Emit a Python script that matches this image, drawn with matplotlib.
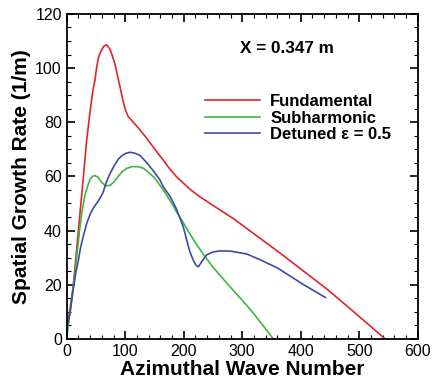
"""Spatial growth rate vs azimuthal wave number at X = 0.347 m."""

import matplotlib
matplotlib.use("Agg")
import matplotlib.pyplot as plt
from matplotlib.ticker import MultipleLocator

plt.rcParams["font.family"] = ["Liberation Sans", "DejaVu Sans"]

# Fundamental mode
fund_n = [0, 5, 11, 17, 23, 29, 34, 40, 45, 48.4, 51, 54, 57, 63, 68, 74, 78,
          82.5, 86, 91, 96.7, 100, 105, 114, 122, 137, 150, 165, 176, 188,
          211, 228, 262, 285, 310, 342, 370, 399, 420, 444, 484, 513, 544]
fund_sigma = [3, 10, 19, 33, 47, 61, 73, 84, 92, 95.6, 100, 103.5, 105.5,
              108, 108.6, 107, 104.5, 101.5, 98, 93.2, 87.5, 84.8, 82.1, 80,
              78, 74, 70.2, 66, 62.8, 59.8, 55.2, 52.4, 47.6, 44.4, 40.4,
              35.3, 30.8, 26, 22.5, 18.5, 11.2, 5.8, 0]

# Subharmonic mode
sub_n = [0, 4, 8.5, 14, 19, 23, 27, 31, 36, 40, 44, 48, 53, 57, 62, 68, 74,
         81, 88, 95, 103, 112, 122, 131, 137, 150, 165, 177, 188, 199, 211,
         222, 235, 250, 268, 285, 302, 319, 336, 353]
sub_sigma = [0, 7, 14.5, 24, 34, 42, 48, 53, 56.5, 59, 60, 60.3, 59.8, 58.6,
             57.3, 56.5, 56.7, 58, 60, 61.8, 63, 63.6, 63.6, 63, 62, 59.5,
             55, 51, 46.8, 43, 38.6, 34.8, 30.8, 26.5, 22, 17.8, 13.8, 9.5,
             4.8, 0]

# Detuned mode, epsilon = 0.5
det_n = [0, 1, 6, 11, 16, 20, 24, 28.5, 34, 40, 46, 51, 57, 62, 68, 74, 80,
         88, 94, 101, 108, 116, 125, 137, 150, 159, 165, 177, 188, 199, 205,
         210, 216, 221, 225, 230, 239, 250, 262, 280, 296, 307, 330, 361,
         399, 416, 442]
det_sigma = [3, 4.5, 10, 18, 25, 29, 34, 38, 42.5, 46, 48.5, 50, 52, 54, 58,
             61, 63.5, 66.3, 67.6, 68.5, 68.9, 68.6, 67.8, 65, 61.5, 58.8,
             56.2, 52.5, 47.8, 41.5, 36.6, 32.5, 29.2, 27.2, 26.6, 28.3, 31,
             32.1, 32.5, 32.4, 31.8, 31.4, 29.3, 26.1, 20.8, 18.6, 15.3]

fig = plt.figure(figsize=(4.33, 3.86), dpi=100)
ax = fig.add_axes([0.154, 0.122, 0.811, 0.842])

ax.plot(fund_n, fund_sigma, color="#e0242c", lw=1.2, label="Fundamental")
ax.plot(sub_n, sub_sigma, color="#3cb83c", lw=1.2, label="Subharmonic")
ax.plot(det_n, det_sigma, color="#3d4aa8", lw=1.2,
        label="Detuned \u03b5 = 0.5")

ax.set_xlim(0, 600)
ax.set_ylim(0, 120)
ax.xaxis.set_major_locator(MultipleLocator(100))
ax.xaxis.set_minor_locator(MultipleLocator(20))
ax.yaxis.set_major_locator(MultipleLocator(20))
ax.yaxis.set_minor_locator(MultipleLocator(5))
ax.tick_params(which="both", direction="in", top=True, right=True,
               labelsize=11.5, width=1.2)
ax.tick_params(which="major", length=6)
ax.tick_params(which="minor", length=3, width=0.8)
for sp in ax.spines.values():
    sp.set_linewidth(1.3)

ax.set_xlabel("Azimuthal Wave Number", fontsize=15, fontweight="bold",
              labelpad=1)
ax.set_ylabel("Spatial Growth Rate (1/m)", fontsize=15, fontweight="bold",
              labelpad=3)

ax.text(0.627, 0.895, "X = 0.347 m", transform=ax.transAxes, ha="center",
        va="center", fontsize=12.3, fontweight="bold")

ax.legend(loc="upper left", bbox_to_anchor=(0.394, 0.753), frameon=False,
          borderpad=0, borderaxespad=0, handlelength=3.3, handletextpad=0.6,
          labelspacing=0.09, prop={"size": 12, "weight": "bold"})

fig.savefig("out.png", dpi=100)
